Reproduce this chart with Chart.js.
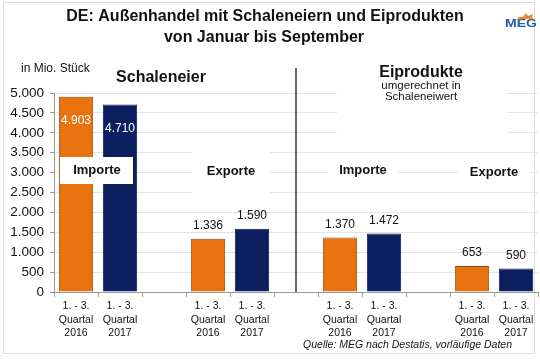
<!DOCTYPE html>
<html><head><meta charset="utf-8">
<script src="https://cdn.jsdelivr.net/npm/chart.js@4.4.0/dist/chart.umd.min.js"></script>
<style>
html,body{margin:0;padding:0;background:#fff;}
#wrap{position:relative;width:540px;height:359px;}
#frame{position:absolute;left:3px;top:2px;width:532px;height:352px;border:1px solid #dcdcdc;box-sizing:border-box;}
canvas{position:absolute;left:0;top:0;}
</style></head>
<body><div id="wrap"><div id="frame"></div><canvas id="c" width="540" height="359"></canvas></div>
<script>
const categories = [
  ["1. - 3.","Quartal","2016"],["1. - 3.","Quartal","2017"],"",
  ["1. - 3.","Quartal","2016"],["1. - 3.","Quartal","2017"],"",
  ["1. - 3.","Quartal","2016"],["1. - 3.","Quartal","2017"],"",
  ["1. - 3.","Quartal","2016"],["1. - 3.","Quartal","2017"]
];
const values = [4903, 4710, null, 1336, 1590, null, 1370, 1472, null, 653, 590];
const yTicks = [0,500,1000,1500,2000,2500,3000,3500,4000,4500,5000];
const sectionLabels = ["Schaleneier","Eiprodukte"];
const groupLabels = ["Importe","Exporte","Importe","Exporte"];
const titleLines = ["DE: Außenhandel mit Schaleneiern und Eiprodukten","von Januar bis September"];
const unitLabel = "in Mio. Stück";
const sourceLabel = "Quelle: MEG nach Destatis, vorläufige Daten";

const ORANGE = "#E8720E", NAVY = "#0C1F5E";
const barColors = values.map((v,i)=> (i%3===0) ? ORANGE : NAVY);
const borderColors = values.map((v,i)=> (i%3===0) ? "#9a4a10" : NAVY);
const fmt = v => v.toLocaleString('de-DE');
const FONT = "'Liberation Sans', Arial, sans-serif";

const overlay = {
  id:'overlay',
  afterDatasetsDraw(chart){
    const ctx = chart.ctx, x = chart.scales.x, y = chart.scales.y, ca = chart.chartArea;
    const meta = chart.getDatasetMeta(0);
    ctx.save();
    ctx.fillStyle = "#fff";
    ctx.fillRect(108, 64, 122, 27);
    ctx.fillRect(337, 64, 170, 76);
    ctx.fillRect(192, 150, 78, 44);
    ctx.fillRect(327, 158, 71, 26);
    ctx.fillRect(458, 158, 72, 30);
    ctx.fillRect(60, 157, 73, 27);
    const xd = x.getPixelForValue(5);
    ctx.strokeStyle = "#333"; ctx.lineWidth = 1.5;
    ctx.beginPath(); ctx.moveTo(xd, 68); ctx.lineTo(xd, ca.bottom); ctx.stroke();
    ctx.textAlign = "center"; ctx.textBaseline = "middle";
    ctx.font = "12px " + FONT;
    values.forEach((v,i)=>{
      if (v === null) return;
      const el = meta.data[i];
      if (i < 2) { ctx.fillStyle = "#fff"; ctx.fillText(fmt(v), el.x, el.y + 24); }
      else { ctx.fillStyle = "#111"; ctx.fillText(fmt(v), el.x, el.y - 13); }
    });
    ctx.fillStyle = "#111";
    ctx.font = "bold 16px " + FONT;
    ctx.fillText(sectionLabels[0], 161, 78);
    ctx.fillText(sectionLabels[1], 421, 73);
    ctx.font = "11.5px " + FONT;
    ctx.fillText("umgerechnet in", 421, 86);
    ctx.fillText("Schaleneiwert", 421, 97);
    ctx.font = "bold 13px " + FONT;
    ctx.fillText(groupLabels[0], 97, 170);
    ctx.fillText(groupLabels[1], 231, 171);
    ctx.fillText(groupLabels[2], 363, 170);
    ctx.fillText(groupLabels[3], 494, 172);
    ctx.restore();
  },
  afterDraw(chart){
    const ctx = chart.ctx;
    ctx.save();
    ctx.fillStyle = "#111"; ctx.textAlign = "center"; ctx.textBaseline = "middle";
    ctx.font = "bold 16px " + FONT;
    ctx.fillText(titleLines[0], 265, 17);
    ctx.fillText(titleLines[1], 264, 38);
    ctx.font = "12px " + FONT;
    ctx.textAlign = "left";
    ctx.fillText(unitLabel, 21, 69);
    ctx.font = "italic 10.5px " + FONT;
    ctx.textAlign = "right";
    ctx.fillText(sourceLabel, 512, 345);
    // logo
    ctx.fillStyle = "#1d5fa8";
    ctx.font = "bold 11px " + FONT;
    ctx.textAlign = "left"; ctx.textBaseline = "alphabetic";
    ctx.save(); ctx.translate(505, 27); ctx.scale(1.28, 1); ctx.fillText("MEG", 0, 0); ctx.restore();
    ctx.fillStyle = "#e8862a";
    ctx.beginPath();
    ctx.moveTo(516, 20); ctx.quadraticCurveTo(519, 16, 523, 17);
    ctx.lineTo(526, 13); ctx.lineTo(528, 16); ctx.lineTo(533, 14);
    ctx.lineTo(532, 18); ctx.lineTo(535, 19); ctx.quadraticCurveTo(526, 18, 516, 20);
    ctx.closePath(); ctx.fill();
    ctx.restore();
  }
};

new Chart(document.getElementById('c'), {
  type:'bar',
  data:{ labels: categories, datasets:[{ data: values, backgroundColor: barColors, borderColor: borderColors, borderWidth: 1,
    categoryPercentage: 1, barPercentage: 0.78 }]},
  options:{
    responsive:false, animation:false, devicePixelRatio:1,
    layout:{ padding:{ top:93, left:0, right:2, bottom:0 } },
    plugins:{ legend:{display:false}, tooltip:{enabled:false} },
    scales:{
      x:{
        grid:{ display:true, drawOnChartArea:false, drawTicks:true, tickLength:5, color:"#999", offset:true },
        border:{ display:true, color:"#999" },
        ticks:{ color:"#111", font:{ family:FONT, size:10.5, lineHeight:1.25 }, maxRotation:0, autoSkip:false, padding:3 },
        afterFit: s => { s.height = 67; }
      },
      y:{
        min:0, max:5000,
        afterBuildTicks: s => { s.ticks = yTicks.map(v=>({value:v})); },
        grid:{ color:"#e4e4e4", tickLength:4, drawTicks:true, tickColor:"#999" },
        border:{ display:true, color:"#999" },
        ticks:{ color:"#111", font:{ family:FONT, size:13.5 }, padding:6, callback: v => fmt(v) },
        afterFit: s => { s.width = 54; }
      }
    }
  },
  plugins:[overlay]
});
</script></body></html>
